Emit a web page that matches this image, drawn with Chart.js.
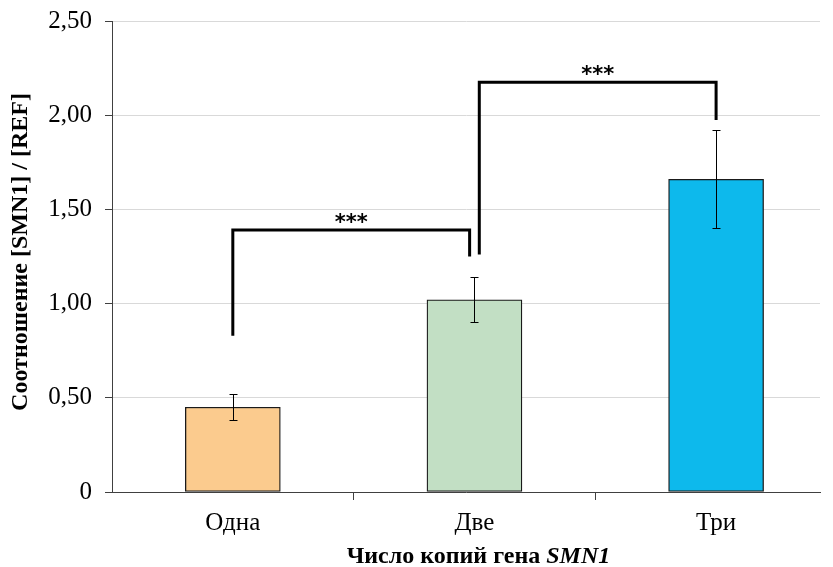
<!DOCTYPE html>
<html><head><meta charset="utf-8">
<script src="https://cdn.jsdelivr.net/npm/chart.js@4"></script>
<style>html,body{margin:0;padding:0;background:#fff}#wrap{width:833px;height:567px}</style>
</head><body><div id="wrap"><canvas id="c" width="833" height="567"></canvas></div>
<script>
const categories = ['Одна', 'Две', 'Три'];
const values = [0.45, 1.02, 1.66];
const errors = [0.07, 0.12, 0.26];
const barColors = ['#FBCB8E', '#C2DFC4', '#0DB9EC'];
const yTicks = [0, 0.5, 1.0, 1.5, 2.0, 2.5];
// significance brackets (in data units)
const brackets = [
  {from: 0, to: 0.98, leftBottom: 0.83, top: 1.39, rightBottom: 1.25, label: '***'},
  {from: 1.02, to: 2.0, leftBottom: 1.26, top: 2.175, rightBottom: 1.975, label: '***'}
];
const yTitle = 'Соотношение [SMN1] / [REF]';
const xTitleA = 'Число копий гена ';
const xTitleB = 'SMN1';

const serif = '"Liberation Serif", "Times New Roman", serif';

const overlay = {
  id: 'overlay',
  afterDatasetsDraw(chart) {
    const {ctx, scales: {x, y}} = chart;
    ctx.save();
    ctx.strokeStyle = '#000'; ctx.lineWidth = 1;
    values.forEach((v, i) => {
      const px = Math.round(x.getPixelForValue(i)) + 0.5;
      const t = Math.round(y.getPixelForValue(v + errors[i])) + 0.5;
      const b = Math.round(y.getPixelForValue(v - errors[i])) + 0.5;
      ctx.beginPath();
      ctx.moveTo(px, t); ctx.lineTo(px, b);
      ctx.moveTo(px - 4, t); ctx.lineTo(px + 4, t);
      ctx.moveTo(px - 4, b); ctx.lineTo(px + 4, b);
      ctx.stroke();
    });
    ctx.lineWidth = 3; ctx.lineJoin = 'miter';
    brackets.forEach(br => {
      const x1 = x.getPixelForValue(br.from), x2 = x.getPixelForValue(br.to);
      const yt = y.getPixelForValue(br.top);
      ctx.beginPath();
      ctx.moveTo(x1, y.getPixelForValue(br.leftBottom));
      ctx.lineTo(x1, yt); ctx.lineTo(x2, yt);
      ctx.lineTo(x2, y.getPixelForValue(br.rightBottom));
      ctx.stroke();
      ctx.fillStyle = '#000';
      ctx.font = 'bold 21px "DejaVu Sans", sans-serif';
      ctx.textAlign = 'center'; ctx.textBaseline = 'alphabetic';
      ctx.fillText(br.label, (x1 + x2) / 2, yt - 1);
    });
    ctx.restore();
  },
  afterDraw(chart) {
    const {ctx, scales: {x}} = chart;
    ctx.save();
    ctx.fillStyle = '#000';
    ctx.translate(21, 252);
    ctx.rotate(-Math.PI / 2);
    ctx.font = 'bold 24px ' + serif;
    ctx.textAlign = 'center'; ctx.textBaseline = 'middle';
    ctx.fillText(yTitle, 0, 0);
    ctx.restore();
    ctx.save();
    ctx.fillStyle = '#000';
    ctx.textBaseline = 'alphabetic';
    const fA = 'bold 24px ' + serif, fB = 'bold italic 24px ' + serif;
    ctx.font = fA; const wA = ctx.measureText(xTitleA).width;
    ctx.font = fB; const wB = ctx.measureText(xTitleB).width;
    const cx = x.getPixelForValue(1) + 4;
    const sx = cx - (wA + wB) / 2;
    ctx.textAlign = 'left';
    ctx.font = fA; ctx.fillText(xTitleA, sx, 563);
    ctx.font = fB; ctx.fillText(xTitleB, sx + wA, 563);
    ctx.restore();
  }
};

new Chart(document.getElementById('c'), {
  type: 'bar',
  data: {
    datasets: [{
      data: values.map((v, i) => ({x: i, y: v})),
      backgroundColor: barColors,
      borderColor: '#1a1a1a',
      borderWidth: 1.3,
      borderSkipped: false,
      barThickness: 95
    }]
  },
  options: {
    responsive: false,
    animation: false,
    events: [],
    layout: {padding: {top: 21, right: 13, left: 0, bottom: 0}},
    plugins: {legend: {display: false}, tooltip: {enabled: false}},
    scales: {
      x: {
        type: 'linear',
        offset: false,
        min: -0.5, max: 2.43,
        afterBuildTicks(s) { s.ticks = [0, 0.5, 1, 1.5, 2].map(v => ({value: v})); },
        afterFit(s) { s.height = 75; s.paddingLeft = 0; s.paddingRight = 0; },
        grid: {
          offset: false,
          drawOnChartArea: false, drawTicks: true, tickLength: 8,
          color: c => (c.tick && c.tick.value % 1 !== 0) ? '#404040' : 'rgba(0,0,0,0)'
        },
        border: {color: '#404040', width: 1},
        ticks: {
          autoSkip: false, maxRotation: 0, padding: 8,
          color: '#000',
          font: {family: serif, size: 25},
          callback: v => (Number.isInteger(v) ? categories[v] : '')
        }
      },
      y: {
        min: 0, max: 2.5,
        afterBuildTicks(s) { s.ticks = yTicks.map(v => ({value: v})); },
        afterFit(s) { s.width = 112; s.paddingTop = 0; s.paddingBottom = 0; },
        grid: {color: '#d9d9d9', lineWidth: 1, tickLength: 7, tickColor: '#404040'},
        border: {color: '#404040', width: 1},
        ticks: {
          padding: 13, color: '#000',
          font: {family: serif, size: 25},
          callback: v => (v === 0 ? '0' : v.toFixed(2).replace('.', ','))
        }
      }
    }
  },
  plugins: [overlay]
});
</script></body></html>
